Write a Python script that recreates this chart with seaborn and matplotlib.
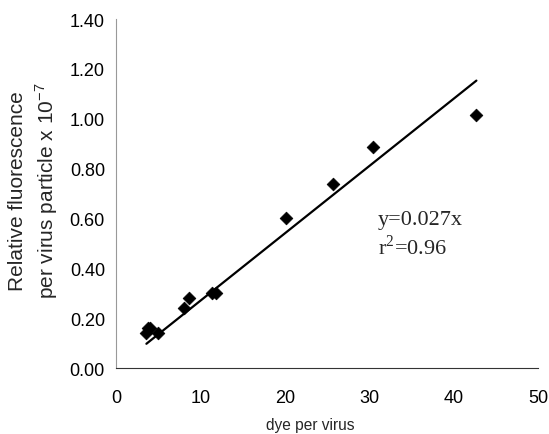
import matplotlib
matplotlib.use('Agg')
import numpy as np
import pandas as pd
import matplotlib.pyplot as plt
import seaborn as sns
import matplotlib.ticker as ticker

# Data
dye_per_virus = [3.6, 3.8, 4.0, 5.0, 8.0, 8.6, 11.4, 11.8, 20.2, 25.7, 30.5, 42.7]
fluorescence = [0.14, 0.16, 0.16, 0.14, 0.24, 0.28, 0.30, 0.30, 0.60, 0.74, 0.885, 1.015]
slope = 0.027
r_squared = 0.96

sns.set_style('white')
plt.rcParams['font.family'] = ['Liberation Sans', 'DejaVu Sans']

df = pd.DataFrame({'dye': dye_per_virus, 'fluor': fluorescence})
fit_x = [min(dye_per_virus), max(dye_per_virus)]
fit = pd.DataFrame({'dye': fit_x, 'fluor': [slope * v for v in fit_x]})

fig = plt.figure(figsize=(5.49, 4.35), dpi=100)
ax = fig.add_axes([0.2113, 0.1517, 0.7687, 0.8023])

sns.lineplot(data=fit, x='dye', y='fluor', ax=ax, color='black', linewidth=1.6)
sns.scatterplot(data=df, x='dye', y='fluor', ax=ax, marker='D', s=42,
                color='black', edgecolor='black', zorder=3)

ax.set_xlim(0, 50)
ax.set_ylim(0, 1.4)
ax.set_xticks(range(0, 51, 10))
ax.set_yticks(np.arange(0, 1.41, 0.2))
ax.yaxis.set_major_formatter(ticker.StrMethodFormatter('{x:.2f}'))

for side in ['top', 'right']:
    ax.spines[side].set_visible(False)
ax.spines['left'].set_color('#999999')
ax.spines['bottom'].set_color('#333333')
ax.tick_params(axis='both', direction='out', length=6, width=1, labelsize=13,
               colors='black')
ax.tick_params(axis='y', color='#999999', pad=2)
ax.tick_params(axis='x', color='#999999', pad=9)
for lbl in ax.get_xticklabels() + ax.get_yticklabels():
    lbl.set_family(['Liberation Sans Narrow', 'Liberation Sans'])

ax.set_xlabel('dye per virus', fontsize=11.2, va='top')
ax.xaxis.set_label_coords(0.46, -0.140)
ax.set_ylabel('Relative fluorescence\nper virus particle x 10$^{\\mathregular{-7}}$',
              fontsize=15, linespacing=1.3)
ax.yaxis.set_label_coords(-0.133, 0.51)

ax.text(31.0, 0.578, 'y=0.027x', fontsize=16, family='Liberation Serif',
        va='baseline')
ax.text(31.0, 0.458, 'r$^{\\mathregular{2}}$=0.96', fontsize=16,
        family='Liberation Serif', va='baseline')

plt.savefig('out.png', dpi=100)
